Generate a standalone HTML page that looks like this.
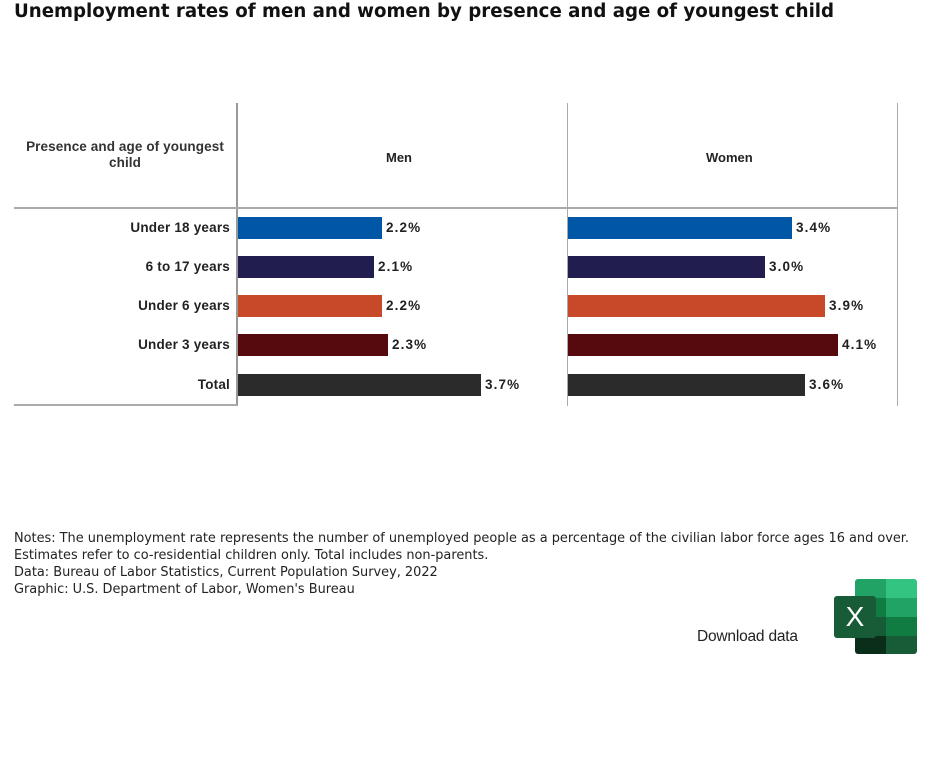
<!DOCTYPE html>
<html><head><style>
body{margin:0;width:932px;height:774px;background:#fff;font-family:"Liberation Sans",sans-serif;position:relative;overflow:hidden}
.a{position:absolute}
.t{left:14px;top:1px;font-family:"DejaVu Sans",sans-serif;font-size:18.2px;color:#111;font-weight:bold;white-space:nowrap}
.lab{position:absolute;right:702px;font-size:13.5px;color:#222;font-weight:bold;white-space:nowrap;letter-spacing:0.2px}
.bar{position:absolute;height:22px}
.v{position:absolute;font-size:13.5px;font-weight:bold;color:#222;letter-spacing:1.1px}
.n{left:14px;font-family:"DejaVu Sans",sans-serif;font-size:12.9px;color:#222;line-height:17px;top:530px;white-space:nowrap}
</style></head><body>
<div class="a t">Unemployment rates of men and women by presence and age of youngest child</div>
<div class="a" style="left:236px;top:103px;width:2px;height:303px;background:#999"></div>
<div class="a" style="left:567px;top:103px;width:1px;height:303px;background:#aaa"></div>
<div class="a" style="left:897px;top:103px;width:1px;height:303px;background:#aaa"></div>
<div class="a" style="left:14px;top:207px;width:884px;height:2px;background:#aaa"></div>
<div class="a" style="left:14px;top:404px;width:223px;height:2px;background:#aaa"></div>
<div class="a" style="left:14px;top:139px;width:222px;text-align:center;font-size:13.5px;color:#333;font-weight:bold;line-height:16px;letter-spacing:0.1px;white-space:nowrap">Presence and age of youngest<br>child</div>
<div class="a" style="left:386px;top:150px;font-size:13px;color:#222;font-weight:bold">Men</div>
<div class="a" style="left:706px;top:150px;font-size:13px;color:#222;font-weight:bold">Women</div>

<div class="lab" style="top:220px">Under 18 years</div>
<div class="lab" style="top:259px">6 to 17 years</div>
<div class="lab" style="top:298px">Under 6 years</div>
<div class="lab" style="top:337px">Under 3 years</div>
<div class="lab" style="top:377px">Total</div>

<div class="bar" style="left:238px;top:217px;width:144px;background:#0057a8"></div><div class="v" style="left:386px;top:220px">2.2%</div>
<div class="bar" style="left:238px;top:256px;width:136px;background:#211d4e"></div><div class="v" style="left:378px;top:259px">2.1%</div>
<div class="bar" style="left:238px;top:295px;width:144px;background:#c8492a"></div><div class="v" style="left:386px;top:298px">2.2%</div>
<div class="bar" style="left:238px;top:334px;width:150px;background:#560a0e"></div><div class="v" style="left:392px;top:337px">2.3%</div>
<div class="bar" style="left:238px;top:374px;width:243px;background:#2b2b2b"></div><div class="v" style="left:485px;top:377px">3.7%</div>

<div class="bar" style="left:568px;top:217px;width:224px;background:#0057a8"></div><div class="v" style="left:796px;top:220px">3.4%</div>
<div class="bar" style="left:568px;top:256px;width:197px;background:#211d4e"></div><div class="v" style="left:769px;top:259px">3.0%</div>
<div class="bar" style="left:568px;top:295px;width:257px;background:#c8492a"></div><div class="v" style="left:829px;top:298px">3.9%</div>
<div class="bar" style="left:568px;top:334px;width:270px;background:#560a0e"></div><div class="v" style="left:842px;top:337px">4.1%</div>
<div class="bar" style="left:568px;top:374px;width:237px;background:#2b2b2b"></div><div class="v" style="left:809px;top:377px">3.6%</div>

<div class="a n">Notes: The unemployment rate represents the number of unemployed people as a percentage of the civilian labor force ages 16 and over.<br>Estimates refer to co-residential children only. Total includes non-parents.<br>Data: Bureau of Labor Statistics, Current Population Survey, 2022<br>Graphic: U.S. Department of Labor, Women's Bureau</div>
<div class="a" style="left:697px;top:628px;font-size:15.5px;color:#222;letter-spacing:-0.2px">Download data</div>

<div class="a" style="left:855px;top:579px;width:62px;height:75px;border-radius:3px;overflow:hidden">
<div class="a" style="left:0;top:0;width:31px;height:19px;background:#21a366"></div>
<div class="a" style="left:31px;top:0;width:31px;height:19px;background:#33c481"></div>
<div class="a" style="left:0;top:19px;width:31px;height:19px;background:#107c41"></div>
<div class="a" style="left:31px;top:19px;width:31px;height:19px;background:#21a366"></div>
<div class="a" style="left:0;top:38px;width:31px;height:19px;background:#185c37"></div>
<div class="a" style="left:31px;top:38px;width:31px;height:19px;background:#107c41"></div>
<div class="a" style="left:0;top:57px;width:31px;height:18px;background:#0b2e1b"></div>
<div class="a" style="left:31px;top:57px;width:31px;height:18px;background:#185c37"></div>
</div>
<div class="a" style="left:834px;top:596px;width:42px;height:42px;background:#185c37;border-radius:3px;color:#fff;font-size:28px;text-align:center;line-height:42px">X</div>
</body></html>
